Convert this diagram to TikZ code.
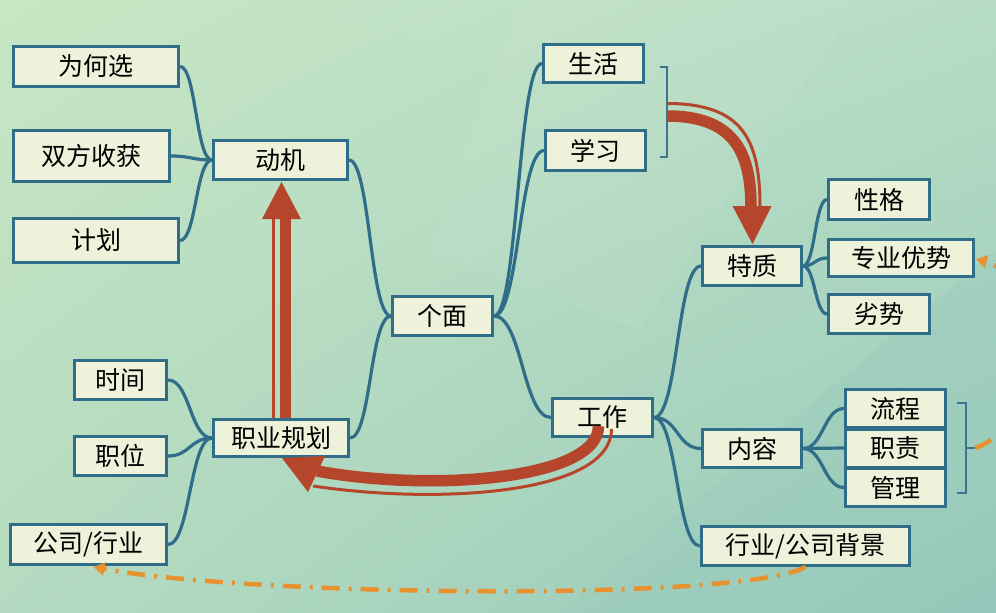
\documentclass[tikz,border=0pt]{standalone}
\usepackage{fontspec}
\newfontfamily\cjk{Noto Sans CJK SC}
\usetikzlibrary{arrows.meta,calc,shadings}
\definecolor{boxfill}{HTML}{EEF2DA}
\definecolor{boxline}{HTML}{2F6D88}
\definecolor{linkc}{HTML}{2F6D88}
\definecolor{brkc}{HTML}{3D7590}
\definecolor{redarr}{HTML}{B5462B}
\definecolor{orangec}{HTML}{E8922F}
\definecolor{bgTL}{HTML}{C8E6C3}
\definecolor{bgTR}{HTML}{B6DCC5}
\definecolor{bgBL}{HTML}{B4DBC1}
\definecolor{bgBR}{HTML}{96C9BB}
\begin{document}
\begin{tikzpicture}[x=1pt,y=-1pt,
  box/.style={draw=boxline, line width=3pt, fill=boxfill, inner sep=0pt,
    font=\cjk\fontsize{25}{30}\selectfont, text=black},
  link/.style={draw=linkc, line width=3.2pt},
  brk/.style={draw=brkc, line width=1.4pt},
  thickband/.style={draw=redarr, line width=11.5pt},
  thinband/.style={draw=redarr, line width=3pt},
  redhead/.style={fill=redarr},
  orangeline/.style={draw=orangec, line width=4.5pt,
    dash pattern=on 18pt off 9pt on 3pt off 9pt}
]
\useasboundingbox (0,0) rectangle (996,613);
\shade[upper left=bgTL, upper right=bgTR, lower left=bgBL, lower right=bgBR]
  (0,0) rectangle (996,613);
\fill[white, opacity=0.05] (520,0) -- (860,0) -- (640,330) -- (430,250) -- cycle;
\fill[bgBR, opacity=0.3] (560,613) -- (996,250) -- (996,613) -- cycle;

% nodes
\node[box, minimum width=165pt, minimum height=40pt] (why)  at (96,66.5)  {为何选};
\node[box, minimum width=156pt, minimum height=51pt] (both) at (91.5,156) {双方收获};
\node[box, minimum width=165pt, minimum height=44pt] (plan) at (96,240.5) {计划};
\node[box, minimum width=134pt, minimum height=39pt] (motive) at (280.5,160) {动机};

\node[box, minimum width=92pt, minimum height=39pt] (time) at (120.5,380) {时间};
\node[box, minimum width=92pt, minimum height=39pt] (pos)  at (120.5,456) {职位};
\node[box, minimum width=156pt, minimum height=40pt] (comp) at (88.5,544.5) {公司/行业};
\node[box, minimum width=135pt, minimum height=37pt] (career) at (281,438) {职业规划};

\node[box, minimum width=100pt, minimum height=39pt] (face) at (442.5,316) {个面};
\node[box, minimum width=100pt, minimum height=38pt] (life)  at (593.5,63.5) {生活};
\node[box, minimum width=100pt, minimum height=40pt] (study) at (595.5,150.5) {学习};
\node[box, minimum width=100pt, minimum height=38pt] (work)  at (602.5,417.5) {工作};

\node[box, minimum width=99pt, minimum height=39pt] (trait) at (752,266) {特质};
\node[box, minimum width=101pt, minimum height=40pt] (char)  at (879,199.5) {性格};
\node[box, minimum width=145pt, minimum height=37pt] (skill) at (901,258) {专业优势};
\node[box, minimum width=101pt, minimum height=39pt] (weak)  at (879,314) {劣势};

\node[box, minimum width=99pt, minimum height=38pt] (content) at (752,448.5) {内容};
\node[box, minimum width=100pt, minimum height=38pt] (flow) at (895.5,408.5) {流程};
\node[box, minimum width=100pt, minimum height=38pt] (duty) at (895.5,448) {职责};
\node[box, minimum width=100pt, minimum height=38pt] (mgmt) at (895.5,487.5) {管理};

\node[box, minimum width=208pt, minimum height=39pt] (industry) at (805.5,546) {行业/公司背景};

% connectors
\draw[link] (motive.west) .. controls +(-16,0) and +(16,0) .. (why.east);
\draw[link] (motive.west) .. controls +(-20,0) and +(20,0) .. (both.east);
\draw[link] (motive.west) .. controls +(-16,0) and +(16,0) .. (plan.east);

\draw[link] (career.west) .. controls +(-22,0) and +(22,0) .. (time.east);
\draw[link] (career.west) .. controls +(-22,0) and +(22,0) .. (pos.east);
\draw[link] (career.west) .. controls +(-22,0) and +(22,0) .. (comp.east);

\draw[link] (face.west) .. controls +(-21,0) and +(21,0) .. (motive.east);
\draw[link] (face.west) .. controls +(-21,0) and +(21,0) .. (career.east);

\draw[link] (face.east) .. controls +(24,0) and +(-24,0) .. (life.west);
\draw[link] (face.east) .. controls +(25,0) and +(-25,0) .. (study.west);
\draw[link] (face.east) .. controls +(28,0) and +(-28,0) .. (work.west);

\draw[link] (work.east) .. controls +(24,0) and +(-24,0) .. (trait.west);
\draw[link] (work.east) .. controls +(24,0) and +(-24,0) .. (content.west);
\draw[link] (work.east) .. controls +(23,0) and +(-23,0) .. (industry.west);

\draw[link] (trait.east) .. controls +(12,0) and +(-12,0) .. (char.west);
\draw[link] (trait.east) .. controls +(12,0) and +(-12,0) .. (skill.west);
\draw[link] (trait.east) .. controls +(12,0) and +(-12,0) .. (weak.west);

\draw[link] (content.east) .. controls +(20,0) and +(-20,0) .. (flow.west);
\draw[link] (content.east) .. controls +(20,0) and +(-20,0) .. (duty.west);
\draw[link] (content.east) .. controls +(20,0) and +(-20,0) .. (mgmt.west);

% brackets
\coordinate (b1top) at (660,67);
\coordinate (b1bot) at (660,157);
\draw[brk] (b1top) -- (667,67) -- (667,157) -- (b1bot);
\coordinate (b2tip) at (975,448);
\draw[brk] (957,403) -- (966,403) -- (966,493) -- (957,493);
\draw[brk] (966,448) -- (b2tip);

% red arrow: career -> motive
\draw[thickband] ($(career.north)+(4.5,0)$) -- ($(motive.south)+(5,37)$);
\draw[thinband] ($(career.north)+(-8,0)$) -- ($(motive.south)+(-7.5,37)$);
\fill[redhead] ($(motive.south)+(-18.5,38)$) -- ($(motive.south)+(20.5,38)$) -- ($(motive.south)+(1,1)$) -- cycle;

% red arrow: bracket -> trait
\coordinate (r3a) at (667,116);
\coordinate (r3b) at (667,103.5);
\draw[thickband] (r3a) .. controls (732,116) and (751,150) .. ($(trait.north)+(-1,-38)$);
\draw[thinband] (r3b) .. controls (743,103.5) and (760,140) .. ($(trait.north)+(8,-38)$);
\fill[redhead] ($(trait.north)+(-19.5,-39)$) -- ($(trait.north)+(19.5,-39)$) -- ($(trait.north)+(0.5,-1)$) -- cycle;

% red arrow: work -> career
\draw[thickband] ($(work.south)+(-4,-12)$) .. controls ($(work.south)+(-4,42)$) and (430,492) .. (317,471);
\draw[thinband] ($(work.south)+(9,-9)$) .. controls ($(work.south)+(9,56)$) and (440,505) .. (313,486);
\fill[redhead] (282,458) -- (308,492) -- (325,456) -- cycle;

% orange dash-dot arrows
\begin{scope}
\clip (0,0) rectangle (996,613);
\draw[orangeline, -{Triangle[length=11pt,width=13pt]}]
  (industry.south) .. controls (740,602) and (250,596) .. ($(comp.south)+(5,1)$);
\draw[orangeline, -{Triangle[length=11pt,width=13pt]}]
  (b2tip) .. controls (1045,425) and (1040,275) .. ($(skill.east)+(1,1)$);
\end{scope}
\end{tikzpicture}
\end{document}
